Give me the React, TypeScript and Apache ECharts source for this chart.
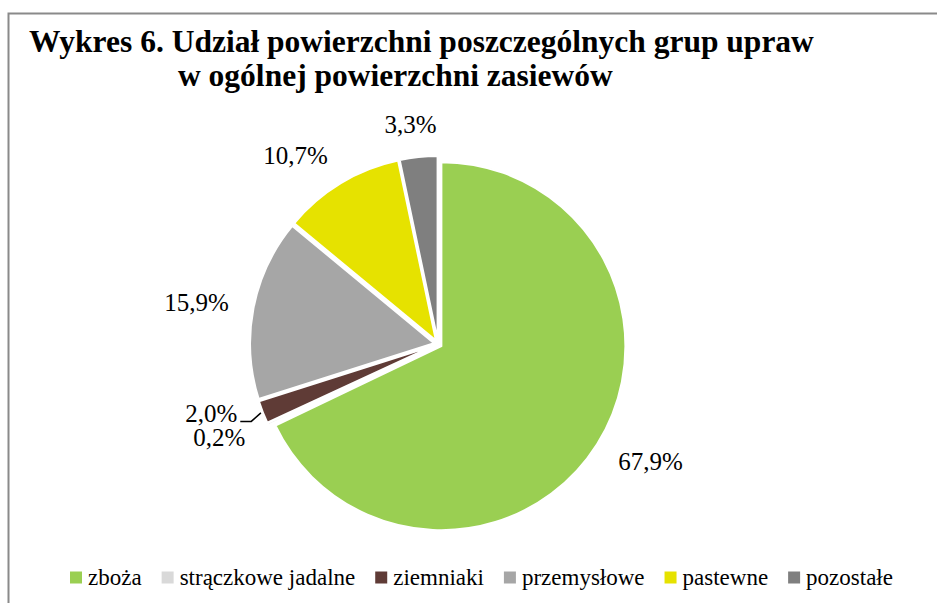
import React, { useEffect, useRef } from 'react';
import * as echarts from 'echarts';

const titleLines = ['Wykres 6. Udział powierzchni poszczególnych grup upraw', 'w ogólnej powierzchni zasiewów'];
const categories = ['zboża', 'strączkowe jadalne', 'ziemniaki', 'przemysłowe', 'pastewne', 'pozostałe'];
const shares = [67.9, 0.2, 2.0, 15.9, 10.7, 3.3];
const sliceColors = ['#9ACF52', '#D9D9D9', '#5F3B36', '#A6A6A6', '#E6E200', '#7F7F7F'];

const CX = 438;
const CY = 344;
const RADIUS = 184;
const EXPLODE = 4;
const LABEL_R = 213;
const SERIF = "'Liberation Serif', serif";

const total = shares.reduce((a, b) => a + b, 0);
function direction(i: number) {
  let cum = 0;
  for (let k = 0; k < i; k++) cum += shares[k];
  const theta = ((cum + shares[i] / 2) / total) * Math.PI * 2;
  return { dx: Math.sin(theta), dy: -Math.cos(theta) };
}
const clamp = (v: number) => Math.max(-1, Math.min(1, v));
function labelCenter(i: number, w: number, h: number) {
  const { dx, dy } = direction(i);
  return {
    x: CX + LABEL_R * dx + (w / 2) * clamp(2 * dx),
    y: CY + LABEL_R * dy + (h / 2) * dy * 0.6,
  };
}
const fmt = (v: number) => v.toFixed(1).replace('.', ',') + '%';

export default function App() {
  const ref = useRef<HTMLDivElement>(null);
  useEffect(() => {
    if (!ref.current) return;
    const chart = echarts.init(ref.current, null, { renderer: 'svg' });
    chart.setOption({
      animation: false,
      backgroundColor: '#fff',
      graphic: [
        {
          type: 'rect',
          shape: { x: 8.5, y: 13.5, width: 1000, height: 700 },
          style: { fill: 'none', stroke: '#8A8A8A', lineWidth: 2 },
          silent: true,
        },
        {
          type: 'text',
          x: 29,
          y: 41.5,
          style: { text: titleLines[0], font: `bold 31.5px ${SERIF}`, fill: '#000', verticalAlign: 'middle' },
        },
        {
          type: 'text',
          x: 178,
          y: 75.5,
          style: { text: titleLines[1], font: `bold 31.5px ${SERIF}`, fill: '#000', verticalAlign: 'middle' },
        },
      ],
      legend: {
        data: categories,
        left: 63,
        top: 561,
        icon: 'rect',
        itemWidth: 14,
        itemHeight: 14,
        itemGap: 18,
        textStyle: { fontFamily: SERIF, fontSize: 23, color: '#000' },
      },
      series: [
        {
          type: 'pie',
          center: [CX, CY],
          radius: [0, RADIUS],
          startAngle: 90,
          clockwise: true,
          avoidLabelOverlap: false,
          selectedMode: 'multiple',
          selectedOffset: EXPLODE,
          itemStyle: { borderColor: '#fff', borderWidth: 2 },
          emphasis: { disabled: true },
          label: { show: false },
          labelLine: { show: false },
          data: categories.map((name, i) => ({
            name,
            value: shares[i],
            selected: true,
            itemStyle: { color: sliceColors[i] },
          })),
        },
        {
          type: 'pie',
          center: [CX, CY],
          radius: [0, RADIUS],
          startAngle: 90,
          clockwise: true,
          silent: true,
          avoidLabelOverlap: false,
          itemStyle: { color: 'rgba(0,0,0,0)', borderWidth: 0 },
          emphasis: { disabled: true },
          label: {
            show: true,
            position: 'outside',
            fontFamily: SERIF,
            fontSize: 25,
            color: '#000',
            formatter: (p: any) => fmt(p.value),
          },
          labelLine: { show: false },
          labelLayout: (params: any) => {
            const i = params.dataIndex;
            const w = params.labelRect.width;
            const h = params.labelRect.height;
            if (i === 2) {
              const base = labelCenter(1, w, h);
              const x = base.x - 8;
              const y = base.y - h + 1;
              const { dx, dy } = direction(i);
              const p1 = [CX + (RADIUS + EXPLODE + 2) * dx, CY + (RADIUS + EXPLODE + 2) * dy];
              const p3 = [x + w / 2 + 3, y + h * 0.3];
              const p2 = [p3[0] + 11, p3[1]];
              return { x, y, align: 'center', verticalAlign: 'middle', labelLinePoints: [p1, p2, p3] };
            }
            const c = labelCenter(i, w, h);
            return { x: c.x, y: c.y, align: 'center', verticalAlign: 'middle' };
          },
          data: categories.map((name, i) => ({
            name,
            value: shares[i],
            labelLine:
              i === 2
                ? { show: true, length: 8, length2: 10, lineStyle: { color: '#000', width: 1.5 } }
                : { show: false },
          })),
        },
      ],
    });
    return () => chart.dispose();
  }, []);
  return <div ref={ref} style={{ position: 'absolute', left: 0, top: 0, width: 937, height: 603 }} />;
}
